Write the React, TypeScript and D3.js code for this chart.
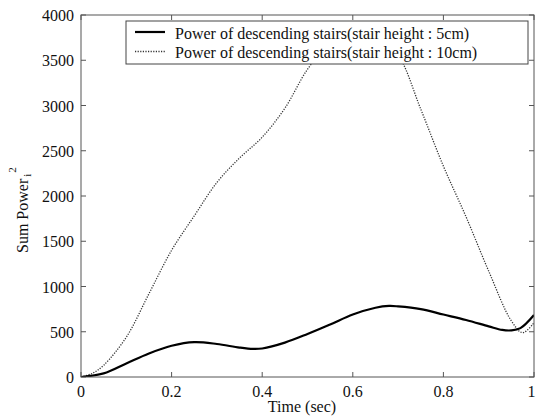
import React from "react";
import * as d3 from "d3";

// Time axis samples (sec)
const timeSolid = [0, 0.05, 0.1, 0.15, 0.2, 0.25, 0.3, 0.35, 0.38, 0.4, 0.45, 0.5, 0.55, 0.6, 0.65, 0.68, 0.7, 0.75, 0.8, 0.85, 0.9, 0.93, 0.95, 0.97, 1.0];
const power5cm = [0, 40, 150, 260, 345, 385, 365, 325, 310, 315, 380, 475, 580, 690, 765, 785, 780, 750, 690, 630, 560, 520, 515, 540, 685];

const timeDotted = [0, 0.025, 0.05, 0.1, 0.15, 0.2, 0.25, 0.3, 0.35, 0.4, 0.45, 0.5, 0.55, 0.6, 0.65, 0.7, 0.75, 0.8, 0.85, 0.9, 0.95, 0.975, 1.0];
const power10cm = [0, 40, 130, 440, 920, 1400, 1780, 2150, 2420, 2650, 2970, 3400, 3700, 3850, 3800, 3560, 2960, 2330, 1770, 1170, 620, 490, 600];

const xTicks = [0, 0.2, 0.4, 0.6, 0.8, 1];
const xTickLabels = ["0", "0.2", "0.4", "0.6", "0.8", "1"];
const yTicks = [0, 500, 1000, 1500, 2000, 2500, 3000, 3500, 4000];

const legendLabels = [
  "Power of descending stairs(stair height : 5cm)",
  "Power of descending stairs(stair height : 10cm)",
];

const W = 536;
const H = 417;
const M = { left: 81, right: 534, top: 15, bottom: 377 };
const FONT = "'Liberation Serif', 'Times New Roman', serif";
const TEXT = "#111";

export default function App() {
  const x = d3.scaleLinear().domain([0, 1]).range([M.left, M.right]);
  const y = d3.scaleLinear().domain([0, 4000]).range([M.bottom, M.top]);

  const line = d3
    .line<[number, number]>()
    .x((d) => x(d[0]))
    .y((d) => y(d[1]))
    .curve(d3.curveCatmullRom.alpha(0.5));

  const solidPath = line(timeSolid.map((t, i) => [t, power5cm[i]] as [number, number])) || "";
  const dottedPath = line(timeDotted.map((t, i) => [t, power10cm[i]] as [number, number])) || "";

  const tickLen = 5;
  const axisColor = "#555";

  return (
    <svg
      width={W}
      height={H}
      style={{ position: "absolute", left: 0, top: 0, background: "#fff" }}
      fontFamily={FONT}
    >
      <rect x={0} y={0} width={W} height={H} fill="#fff" />
      <defs>
        <clipPath id="plot-area">
          <rect x={M.left} y={M.top} width={M.right - M.left} height={M.bottom - M.top} />
        </clipPath>
      </defs>

      {/* ticks on all four sides, pointing inward */}
      {xTicks.map((t) => (
        <g key={"xt" + t} stroke={axisColor} strokeWidth={1}>
          <line x1={x(t)} x2={x(t)} y1={M.bottom} y2={M.bottom - tickLen} />
          <line x1={x(t)} x2={x(t)} y1={M.top} y2={M.top + tickLen} />
        </g>
      ))}
      {yTicks.map((v) => (
        <g key={"yt" + v} stroke={axisColor} strokeWidth={1}>
          <line x1={M.left} x2={M.left + tickLen} y1={y(v)} y2={y(v)} />
          <line x1={M.right} x2={M.right - tickLen} y1={y(v)} y2={y(v)} />
        </g>
      ))}

      {/* curves */}
      <g clipPath="url(#plot-area)" fill="none">
        <path d={dottedPath} stroke="#333" strokeWidth={1.3} strokeDasharray="1.2 1.4" />
        <path d={solidPath} stroke="#000" strokeWidth={2.2} />
      </g>

      {/* frame */}
      <rect
        x={M.left}
        y={M.top}
        width={M.right - M.left}
        height={M.bottom - M.top}
        fill="none"
        stroke={axisColor}
        strokeWidth={1}
      />

      {/* tick labels */}
      {xTicks.map((t, i) => (
        <text
          key={"xl" + t}
          x={Math.min(x(t), W - 4.5)}
          y={397}
          textAnchor="middle"
          fontSize={16}
          fill={TEXT}
        >
          {xTickLabels[i]}
        </text>
      ))}
      {yTicks.map((v) => (
        <text key={"yl" + v} x={74} y={y(v) + 6} textAnchor="end" fontSize={16} fill={TEXT}>
          {v}
        </text>
      ))}

      {/* axis titles */}
      <text x={302} y={412} textAnchor="middle" fontSize={16} fill={TEXT}>
        Time (sec)
      </text>
      <g transform="translate(28,253) rotate(-90)">
        <text x={0} y={0} fontSize={16} fill={TEXT}>
          Sum Power
          <tspan dx={2} dy={3} fontSize={11}>i</tspan>
          <tspan dx={1} dy={-15} fontSize={11}>2</tspan>
        </text>
      </g>

      {/* legend */}
      <rect x={126} y={21} width={402} height={43} fill="#fff" stroke="#444" strokeWidth={1} />
      <line x1={135} x2={165} y1={32} y2={32} stroke="#000" strokeWidth={2.2} />
      <line x1={135} x2={165} y1={51.5} y2={51.5} stroke="#333" strokeWidth={1.3} strokeDasharray="1.2 1.4" />
      <text x={175} y={38.5} fontSize={16} fill={TEXT}>
        {legendLabels[0]}
      </text>
      <text x={175} y={57.5} fontSize={16} fill={TEXT}>
        {legendLabels[1]}
      </text>
    </svg>
  );
}
